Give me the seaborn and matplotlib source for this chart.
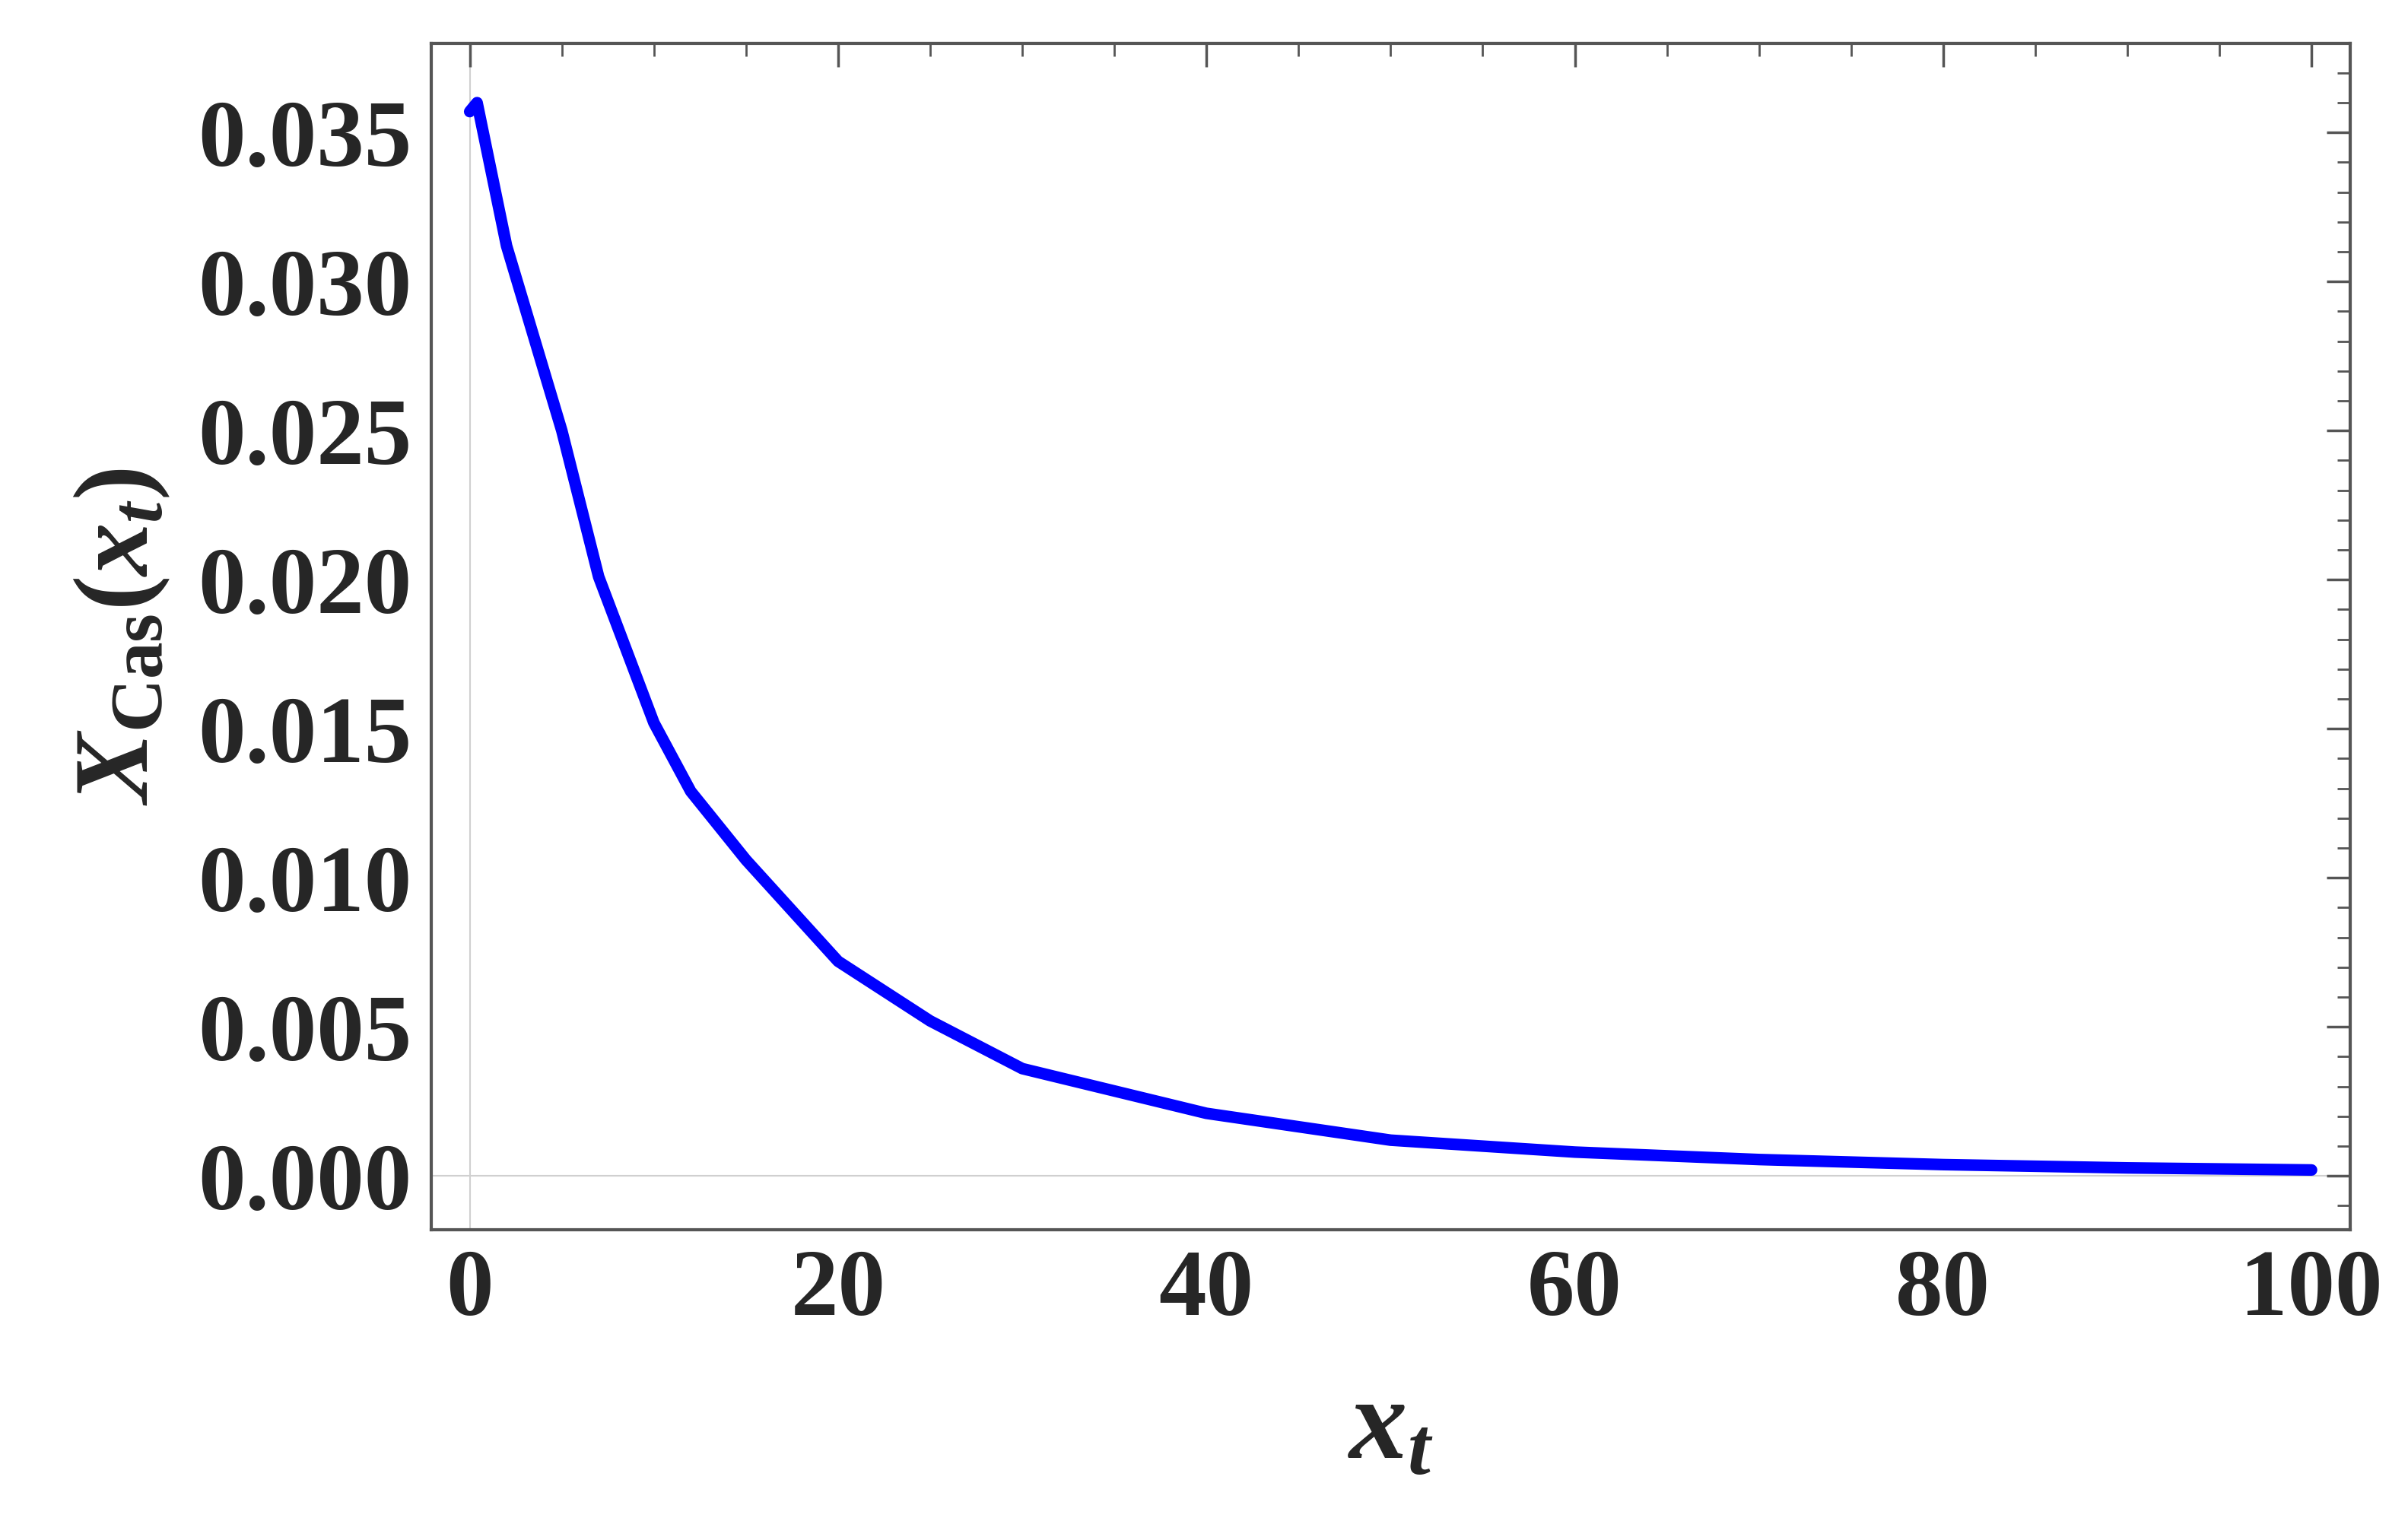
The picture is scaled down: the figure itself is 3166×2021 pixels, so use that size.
import numpy as np
import pandas as pd
import seaborn as sns
import matplotlib
matplotlib.use("Agg")
import matplotlib.pyplot as plt
from matplotlib.ticker import MultipleLocator, FormatStrFormatter

x_t = [0, 0.4, 2, 5, 7, 10, 12, 15, 20, 25, 30, 40, 50, 60, 70, 80, 90, 100]
x_cas = [0.0357, 0.0360, 0.0312, 0.0250, 0.0201, 0.0152, 0.0129, 0.0106, 0.0072,
         0.0052, 0.0036, 0.0021, 0.0012, 0.0008, 0.00055, 0.00038, 0.00027, 0.0002]

sns.set_style("white")
plt.rcParams['font.family'] = ['Liberation Serif', 'DejaVu Serif']
plt.rcParams['mathtext.fontset'] = 'custom'
plt.rcParams['mathtext.rm'] = 'Liberation Serif:bold'
plt.rcParams['mathtext.it'] = 'Liberation Serif:bold:italic'
plt.rcParams['mathtext.bf'] = 'Liberation Serif:bold'

fig = plt.figure(figsize=(31.66, 20.21), dpi=100)
ax = fig.add_axes([0.179, 0.2, 0.797, 0.772])
df = pd.DataFrame({"x": x_t, "y": x_cas})
ax.axhline(0, color="#d0d0d0", lw=1.5, zorder=0)
ax.axvline(0, color="#d0d0d0", lw=1.5, zorder=0)
sns.lineplot(data=df, x="x", y="y", ax=ax, color="#0000ff", lw=11, estimator=None)

ax.set_xlim(-2.1, 102.1)
ax.set_ylim(-0.0018, 0.038)
ax.xaxis.set_major_locator(MultipleLocator(20))
ax.xaxis.set_minor_locator(MultipleLocator(5))
ax.yaxis.set_major_locator(MultipleLocator(0.005))
ax.yaxis.set_minor_locator(MultipleLocator(0.001))
ax.yaxis.set_major_formatter(FormatStrFormatter('%.3f'))
ax.tick_params(which='both', direction='in', top=True, right=True, color='#555555')
ax.tick_params(which='major', length=22, width=2.5, labelsize=90, pad=18)
ax.tick_params(which='minor', length=12, width=2)
for lab in ax.get_xticklabels() + ax.get_yticklabels():
    lab.set_fontweight('bold')
for s in ax.spines.values():
    s.set_color('#555555')
    s.set_linewidth(3)
ax.set_xlabel(r'$x_t$', fontsize=110, labelpad=40)
ax.set_ylabel(r'$X_{\mathrm{Cas}}(x_t)$', fontsize=100, labelpad=25)
fig.savefig("out.png", dpi=100)
